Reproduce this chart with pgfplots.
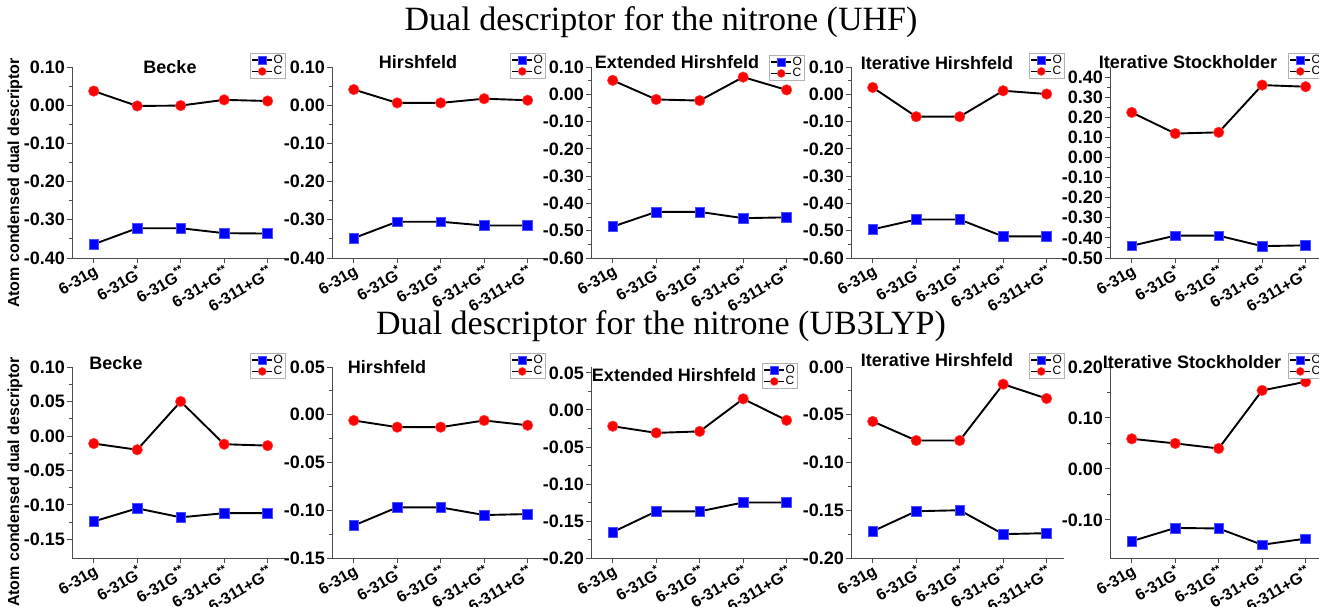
\documentclass[border=0pt]{standalone}
\usepackage{pgfplots}
\pgfplotsset{compat=1.18}
\usepackage{fontspec}
\setmainfont{Liberation Serif}
\setsansfont{Liberation Sans}

\pgfplotsset{
  oline/.style={black, line width=1.9pt, mark=square*, mark size=4.9pt,
    mark options={fill=blue, draw=blue!70!white, line width=0.5pt, solid}},
  cline/.style={black, line width=1.9pt, mark=*, mark size=5.3pt,
    mark options={fill=red, draw=red!70!white, line width=0.5pt, solid}},
  panel/.style={
    scale only axis, width=213pt, height=191pt,
    xmin=-0.5, xmax=4.4, clip=false,
    axis x line*=bottom, axis y line*=left,
    axis line style={black!70, line width=0.9pt},
    tick style={black!70, line width=0.9pt},
    tick align=outside,
    major tick length=5pt, minor tick length=3pt,
    minor y tick num=1,
    xtick={0,1,2,3,4},
    xticklabels={6-31g,6-31G\textsuperscript{*},6-31G\textsuperscript{**},6-31+G\textsuperscript{**},6-311+G\textsuperscript{**}},
    xticklabel style={rotate=30, anchor=north east, inner sep=1pt,
      font=\fontsize{16}{16}\selectfont\bfseries\sffamily},
    yticklabel style={inner sep=2pt, font=\fontsize{18}{18}\selectfont\bfseries\sffamily,
      /pgf/number format/fixed, /pgf/number format/fixed zerofill,
      /pgf/number format/precision=2, /pgf/number format/assume math mode=true},
    legend image code/.code={\draw[mark repeat=2,mark phase=2,#1,line width=1.2pt] plot coordinates {(0pt,0pt) (10pt,0pt) (20pt,0pt)};},
    legend image post style={mark size=4pt},
    legend cell align=left,
    legend style={at={(1,1)}, anchor=north east, yshift=14pt,
      font=\fontsize{12}{12}\selectfont\sffamily, draw=black!30, fill=white,
      inner sep=1pt, row sep=0pt,
      nodes={inner sep=0.8pt},
      /tikz/every even column/.append style={column sep=0pt}},
  }
}

\begin{document}
\begin{tikzpicture}[x=1pt,y=1pt]
\useasboundingbox (0,0) rectangle (1319,606);

% ---------------- top row (UHF) ----------------
\begin{axis}[panel, at={(72pt,348pt)}, anchor=south west,
  ymin=-0.40, ymax=0.10, ytick={-0.4,-0.3,-0.2,-0.1,0,0.1}]
\addplot[oline] coordinates {(0,-0.364) (1,-0.322) (2,-0.322) (3,-0.335) (4,-0.336)};
\addlegendentry{O}
\addplot[cline] coordinates {(0,0.037) (1,-0.002) (2,-0.001) (3,0.014) (4,0.011)};
\addlegendentry{C}
\end{axis}

\begin{axis}[panel, at={(332pt,348pt)}, anchor=south west,
  ymin=-0.40, ymax=0.10, ytick={-0.4,-0.3,-0.2,-0.1,0,0.1}]
\addplot[oline] coordinates {(0,-0.348) (1,-0.305) (2,-0.305) (3,-0.315) (4,-0.315)};
\addlegendentry{O}
\addplot[cline] coordinates {(0,0.041) (1,0.006) (2,0.006) (3,0.017) (4,0.013)};
\addlegendentry{C}
\end{axis}

\begin{axis}[panel, at={(591pt,348pt)}, anchor=south west,
  ymin=-0.60, ymax=0.10, ytick={-0.6,-0.5,-0.4,-0.3,-0.2,-0.1,0,0.1},
  legend style={yshift=-2pt}]
\addplot[oline] coordinates {(0,-0.485) (1,-0.431) (2,-0.431) (3,-0.454) (4,-0.451)};
\addlegendentry{O}
\addplot[cline] coordinates {(0,0.051) (1,-0.019) (2,-0.023) (3,0.063) (4,0.016)};
\addlegendentry{C}
\end{axis}

\begin{axis}[panel, at={(851pt,348pt)}, anchor=south west,
  ymin=-0.60, ymax=0.10, ytick={-0.6,-0.5,-0.4,-0.3,-0.2,-0.1,0,0.1}]
\addplot[oline] coordinates {(0,-0.495) (1,-0.459) (2,-0.459) (3,-0.521) (4,-0.521)};
\addlegendentry{O}
\addplot[cline] coordinates {(0,0.025) (1,-0.082) (2,-0.082) (3,0.013) (4,0.001)};
\addlegendentry{C}
\end{axis}

\begin{axis}[panel, at={(1110pt,348pt)}, anchor=south west,
  ymin=-0.50, ymax=0.45, ytick={-0.5,-0.4,-0.3,-0.2,-0.1,0,0.1,0.2,0.3,0.4}]
\addplot[oline] coordinates {(0,-0.439) (1,-0.389) (2,-0.389) (3,-0.441) (4,-0.437)};
\addlegendentry{O}
\addplot[cline] coordinates {(0,0.224) (1,0.119) (2,0.125) (3,0.360) (4,0.352)};
\addlegendentry{C}
\end{axis}

% ---------------- bottom row (UB3LYP) ----------------
\begin{axis}[panel, at={(72pt,48pt)}, anchor=south west,
  ymin=-0.177, ymax=0.10, ytick={-0.15,-0.1,-0.05,0,0.05,0.1}]
\addplot[oline] coordinates {(0,-0.124) (1,-0.105) (2,-0.118) (3,-0.112) (4,-0.112)};
\addlegendentry{O}
\addplot[cline] coordinates {(0,-0.011) (1,-0.020) (2,0.050) (3,-0.012) (4,-0.014)};
\addlegendentry{C}
\end{axis}

\begin{axis}[panel, at={(332pt,48pt)}, anchor=south west,
  ymin=-0.15, ymax=0.05, ytick={-0.15,-0.1,-0.05,0,0.05}]
\addplot[oline] coordinates {(0,-0.116) (1,-0.097) (2,-0.097) (3,-0.105) (4,-0.104)};
\addlegendentry{O}
\addplot[cline] coordinates {(0,-0.006) (1,-0.013) (2,-0.013) (3,-0.006) (4,-0.011)};
\addlegendentry{C}
\end{axis}

\begin{axis}[panel, at={(591pt,48pt)}, anchor=south west,
  ymin=-0.20, ymax=0.058, ytick={-0.2,-0.15,-0.1,-0.05,0,0.05},
  legend style={yshift=-10pt, xshift=-7pt}]
\addplot[oline] coordinates {(0,-0.165) (1,-0.137) (2,-0.137) (3,-0.125) (4,-0.125)};
\addlegendentry{O}
\addplot[cline] coordinates {(0,-0.022) (1,-0.031) (2,-0.029) (3,0.015) (4,-0.014)};
\addlegendentry{C}
\end{axis}

\begin{axis}[panel, at={(851pt,48pt)}, anchor=south west,
  ymin=-0.20, ymax=0.0, ytick={-0.2,-0.15,-0.1,-0.05,0}]
\addplot[oline] coordinates {(0,-0.172) (1,-0.151) (2,-0.150) (3,-0.175) (4,-0.174)};
\addlegendentry{O}
\addplot[cline] coordinates {(0,-0.057) (1,-0.077) (2,-0.077) (3,-0.018) (4,-0.033)};
\addlegendentry{C}
\end{axis}

\begin{axis}[panel, at={(1110pt,48pt)}, anchor=south west,
  ymin=-0.175, ymax=0.20, ytick={-0.1,0,0.1,0.2}]
\addplot[oline] coordinates {(0,-0.142) (1,-0.116) (2,-0.117) (3,-0.149) (4,-0.137)};
\addlegendentry{O}
\addplot[cline] coordinates {(0,0.059) (1,0.050) (2,0.040) (3,0.154) (4,0.171)};
\addlegendentry{C}
\end{axis}

% ---------------- titles and labels ----------------
\node[font=\fontsize{34}{34}\selectfont] at (661,584) {Dual descriptor for the nitrone (UHF)};
\node[font=\fontsize{34}{34}\selectfont] at (661,280) {Dual descriptor for the nitrone (UB3LYP)};

\begin{scope}[every node/.style={font=\fontsize{18}{18}\selectfont\bfseries\sffamily}]
\node at (170,539) {Becke};
\node at (418,544) {Hirshfeld};
\node at (677,544) {Extended Hirshfeld};
\node at (937,543) {Iterative Hirshfeld};
\node at (1188,544) {Iterative Stockholder};
\node at (116,243) {Becke};
\node at (387,239) {Hirshfeld};
\node at (674,231) {Extended Hirshfeld};
\node at (937,246) {Iterative Hirshfeld};
\node at (1192,244) {Iterative Stockholder};
\end{scope}

\node[rotate=90, font=\fontsize{16}{16}\selectfont\bfseries\sffamily] at (15,423) {Atom condensed dual descriptor};
\node[rotate=90, font=\fontsize{16}{16}\selectfont\bfseries\sffamily] at (15,124) {Atom condensed dual descriptor};
\end{tikzpicture}
\end{document}
